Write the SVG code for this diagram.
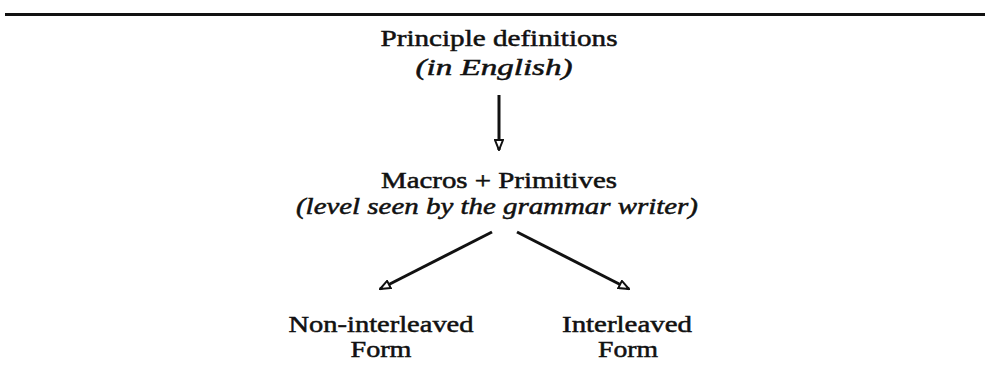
<svg xmlns="http://www.w3.org/2000/svg" width="987" height="388" viewBox="0 0 987 388">
<style>
text{font-family:"Liberation Serif","DejaVu Serif",serif;font-size:23px;fill:#111;text-anchor:middle;stroke:#111;stroke-width:0.5}
.it{font-style:italic}
.ln{stroke:#111;stroke-width:3;fill:none}
</style>
<defs>
<marker id="ah" viewBox="0 0 12 10" refX="11" refY="5" markerWidth="12" markerHeight="10" markerUnits="userSpaceOnUse" orient="auto">
<path d="M1,1 L11,5 L1,9 Z" fill="#fff" stroke="#111" stroke-width="2"/>
</marker>
</defs>
<rect x="5" y="13" width="980" height="3" fill="#111"/>
<g id="principle">
<text x="499" y="46" textLength="237" lengthAdjust="spacingAndGlyphs">Principle definitions</text>
<text x="494" y="75" class="it" textLength="157" lengthAdjust="spacingAndGlyphs">(in English)</text>
</g>
<g id="macros">
<text x="499" y="188" textLength="236" lengthAdjust="spacingAndGlyphs">Macros + Primitives</text>
<text x="497" y="214" class="it" textLength="402" lengthAdjust="spacingAndGlyphs">(level seen by the grammar writer)</text>
</g>
<g id="noninterleaved">
<text x="381" y="332" textLength="185" lengthAdjust="spacingAndGlyphs">Non-interleaved</text>
<text x="381" y="357" textLength="61" lengthAdjust="spacingAndGlyphs">Form</text>
</g>
<g id="interleaved">
<text x="627" y="332" textLength="130" lengthAdjust="spacingAndGlyphs">Interleaved</text>
<text x="628" y="357" textLength="60" lengthAdjust="spacingAndGlyphs">Form</text>
</g>
<g id="connectors">
<line class="ln" x1="499" y1="95" x2="499" y2="150" marker-end="url(#ah)"/>
<line class="ln" x1="492" y1="232" x2="380" y2="289" marker-end="url(#ah)"/>
<line class="ln" x1="517" y1="232" x2="629" y2="289" marker-end="url(#ah)"/>
</g>
</svg>
